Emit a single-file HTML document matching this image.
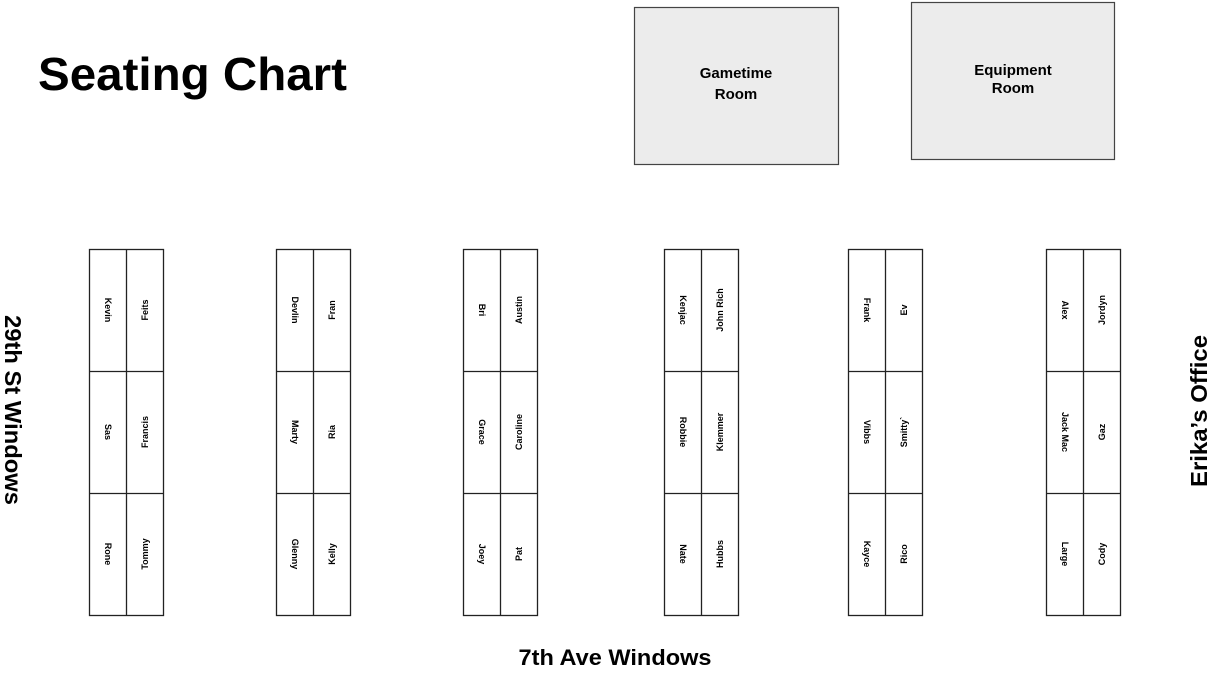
<!DOCTYPE html>
<html><head><meta charset="utf-8"><style>
html,body{margin:0;padding:0;background:#fff}
svg{display:block}
text{font-family:"Liberation Sans",Arial,sans-serif;fill:#000}
</style></head><body>
<svg width="1224" height="685" viewBox="0 0 1224 685" xmlns="http://www.w3.org/2000/svg">
<text x="38" y="90" font-size="46" font-weight="bold" textLength="309" lengthAdjust="spacingAndGlyphs">Seating Chart</text>
<rect x="634.5" y="7.5" width="204" height="157" fill="#ececec" stroke="#444" stroke-width="1.2"/>
<text x="736" y="78" font-size="15" font-weight="bold" text-anchor="middle">Gametime</text>
<text x="736" y="99" font-size="15" font-weight="bold" text-anchor="middle">Room</text>
<rect x="911.5" y="2.5" width="203" height="157" fill="#ececec" stroke="#444" stroke-width="1.2"/>
<text x="1013" y="75" font-size="15" font-weight="bold" text-anchor="middle">Equipment</text>
<text x="1013" y="93" font-size="15" font-weight="bold" text-anchor="middle">Room</text>
<text x="615" y="665" font-size="22" font-weight="bold" text-anchor="middle" textLength="193" lengthAdjust="spacingAndGlyphs">7th Ave Windows</text>
<text transform="translate(5,410) rotate(90)" font-size="23" font-weight="bold" text-anchor="middle" textLength="190" lengthAdjust="spacingAndGlyphs">29th St Windows</text>
<text transform="translate(1207,411) rotate(-90)" font-size="23" font-weight="bold" text-anchor="middle" textLength="152" lengthAdjust="spacingAndGlyphs">Erika’s Office</text>
<g id="desks" stroke="#222" stroke-width="1.3" fill="none">
<rect x="89.5" y="249.5" width="74" height="366"/><line x1="126.5" y1="249" x2="126.5" y2="616"/><line x1="89" y1="371.5" x2="164" y2="371.5"/><line x1="89" y1="493.5" x2="164" y2="493.5"/>
<rect x="276.5" y="249.5" width="74" height="366"/><line x1="313.5" y1="249" x2="313.5" y2="616"/><line x1="276" y1="371.5" x2="351" y2="371.5"/><line x1="276" y1="493.5" x2="351" y2="493.5"/>
<rect x="463.5" y="249.5" width="74" height="366"/><line x1="500.5" y1="249" x2="500.5" y2="616"/><line x1="463" y1="371.5" x2="538" y2="371.5"/><line x1="463" y1="493.5" x2="538" y2="493.5"/>
<rect x="664.5" y="249.5" width="74" height="366"/><line x1="701.5" y1="249" x2="701.5" y2="616"/><line x1="664" y1="371.5" x2="739" y2="371.5"/><line x1="664" y1="493.5" x2="739" y2="493.5"/>
<rect x="848.5" y="249.5" width="74" height="366"/><line x1="885.5" y1="249" x2="885.5" y2="616"/><line x1="848" y1="371.5" x2="923" y2="371.5"/><line x1="848" y1="493.5" x2="923" y2="493.5"/>
<rect x="1046.5" y="249.5" width="74" height="366"/><line x1="1083.5" y1="249" x2="1083.5" y2="616"/><line x1="1046" y1="371.5" x2="1121" y2="371.5"/><line x1="1046" y1="493.5" x2="1121" y2="493.5"/>
</g>
<g font-size="9" font-weight="bold" text-anchor="middle">
<text transform="translate(105,310) rotate(90)">Kevin</text>
<text transform="translate(105,432) rotate(90)">Sas</text>
<text transform="translate(105,554) rotate(90)">Rone</text>
<text transform="translate(292,310) rotate(90)">Devlin</text>
<text transform="translate(292,432) rotate(90)">Marty</text>
<text transform="translate(292,554) rotate(90)">Glenny</text>
<text transform="translate(479,310) rotate(90)">Bri</text>
<text transform="translate(479,432) rotate(90)">Grace</text>
<text transform="translate(479,554) rotate(90)">Joey</text>
<text transform="translate(680,310) rotate(90)">Kenjac</text>
<text transform="translate(680,432) rotate(90)">Robbie</text>
<text transform="translate(680,554) rotate(90)">Nate</text>
<text transform="translate(864,310) rotate(90)">Frank</text>
<text transform="translate(864,432) rotate(90)">Vibbs</text>
<text transform="translate(864,554) rotate(90)">Kayce</text>
<text transform="translate(1062,310) rotate(90)">Alex</text>
<text transform="translate(1062,432) rotate(90)">Jack Mac</text>
<text transform="translate(1062,554) rotate(90)">Large</text>
<text transform="translate(148,310) rotate(-90)">Feits</text>
<text transform="translate(148,432) rotate(-90)">Francis</text>
<text transform="translate(148,554) rotate(-90)">Tommy</text>
<text transform="translate(335,310) rotate(-90)">Fran</text>
<text transform="translate(335,432) rotate(-90)">Ria</text>
<text transform="translate(335,554) rotate(-90)">Kelly</text>
<text transform="translate(522,310) rotate(-90)">Austin</text>
<text transform="translate(522,432) rotate(-90)">Caroline</text>
<text transform="translate(522,554) rotate(-90)">Pat</text>
<text transform="translate(723,310) rotate(-90)">John Rich</text>
<text transform="translate(723,432) rotate(-90)">Klemmer</text>
<text transform="translate(723,554) rotate(-90)">Hubbs</text>
<text transform="translate(907,310) rotate(-90)">Ev</text>
<text transform="translate(907,432) rotate(-90)">Smitty`</text>
<text transform="translate(907,554) rotate(-90)">Rico</text>
<text transform="translate(1105,310) rotate(-90)">Jordyn</text>
<text transform="translate(1105,432) rotate(-90)">Gaz</text>
<text transform="translate(1105,554) rotate(-90)">Cody</text>
</g>
</svg>
</body></html>
